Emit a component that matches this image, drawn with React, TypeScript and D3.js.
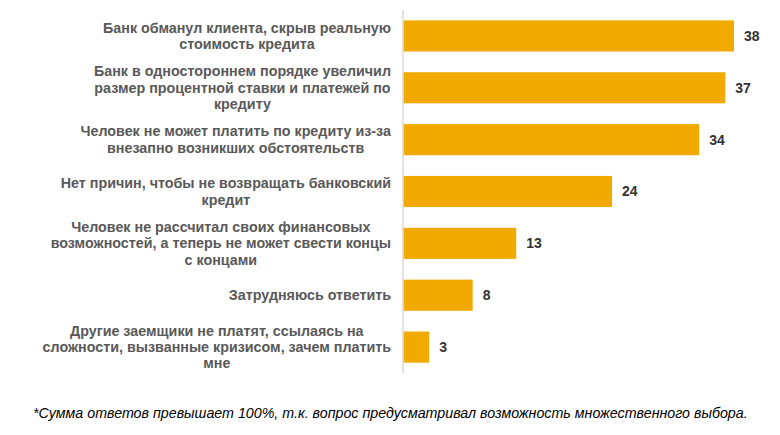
import React from "react";
import * as d3 from "d3";

const categories: string[][] = [
  ["Банк обманул клиента, скрыв реальную", "стоимость кредита"],
  ["Банк в одностороннем порядке увеличил", "размер процентной ставки и платежей по", "кредиту"],
  ["Человек не может платить по кредиту из-за", "внезапно возникших обстоятельств"],
  ["Нет причин, чтобы не возвращать банковский", "кредит"],
  ["Человек не рассчитал своих финансовых", "возможностей, а теперь не может свести концы", "с концами"],
  ["Затрудняюсь ответить"],
  ["Другие заемщики не платят, ссылаясь на", "сложности, вызванные кризисом, зачем платить", "мне"],
];
const values: number[] = [38, 37, 34, 24, 13, 8, 3];
const footnote =
  "*Сумма ответов превышает 100%, т.к. вопрос предусматривал возможность множественного выбора.";

const W = 780;
const H = 435;
const FONT = "'Liberation Sans', Arial, sans-serif";

let ctx: CanvasRenderingContext2D | null = null;
function measure(s: string, size: number): number {
  if (!ctx) {
    const c = document.createElement("canvas");
    ctx = c.getContext("2d");
  }
  if (!ctx) return s.length * size * 0.55;
  ctx.font = `bold ${size}px ${FONT}`;
  return ctx.measureText(s).width;
}

export default function App() {
  const x = d3.scaleLinear().domain([0, 38]).range([403, 734]);
  const y = d3
    .scaleBand<number>()
    .domain(d3.range(values.length))
    .range([10, 373])
    .paddingInner(0.4)
    .paddingOuter(0.2);
  const labelRight = 391;
  const lineH = 16.3;
  const fs = 14.3;

  return (
    <svg
      width={W}
      height={H}
      style={{ position: "absolute", left: 0, top: 0, background: "#fff" }}
      fontFamily={FONT}
    >
      <line x1={x(0)} x2={x(0)} y1={10} y2={373} stroke="#d9d9d9" strokeWidth={1.5} />
      {values.map((v, i) => {
        const yc = (y(i) as number) + y.bandwidth() / 2;
        const lines = categories[i];
        const maxW = d3.max(lines, (l) => measure(l, fs)) || 0;
        const cx = labelRight - maxW / 2;
        return (
          <g key={i}>
            <rect
              x={x(0) + 0.75}
              y={y(i)}
              width={x(v) - x(0) - 0.75}
              height={y.bandwidth()}
              fill="#F2A900"
            />
            <text
              x={x(v) + 10}
              y={yc}
              dy="0.35em"
              fontSize={14}
              fontWeight="bold"
              fill="#333"
            >
              {v}
            </text>
            <text
              x={cx}
              textAnchor="middle"
              fontSize={fs}
              fontWeight="bold"
              fill="#595959"
            >
              {lines.map((l, j) => (
                <tspan
                  key={j}
                  x={cx}
                  y={yc + (j - (lines.length - 1) / 2) * lineH}
                  dy="0.35em"
                >
                  {l}
                </tspan>
              ))}
            </text>
          </g>
        );
      })}
      <text
        x={33}
        y={413}
        dy="0.35em"
        fontSize={14.25}
        fontStyle="italic"
        fill="#000"
      >
        {footnote}
      </text>
    </svg>
  );
}
